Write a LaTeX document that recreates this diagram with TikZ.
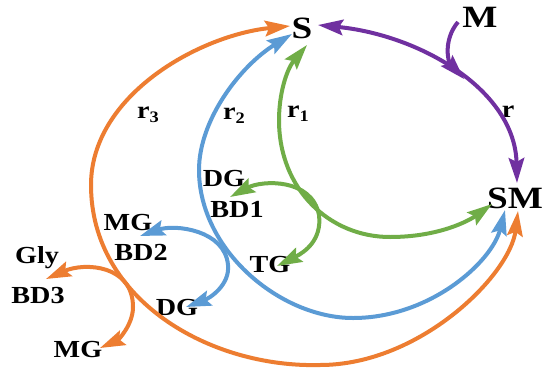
\documentclass[tikz,border=0pt]{standalone}
\usepackage{fontspec}
\setmainfont{Liberation Serif}
\newfontfamily\bigfont[FakeStretch=1.2]{Liberation Serif}
\newfontfamily\smallfont[FakeStretch=1.15]{Liberation Serif}
\usetikzlibrary{arrows.meta}
\definecolor{corange}{HTML}{ED7D31}
\definecolor{cblue}{HTML}{5B9BD5}
\definecolor{cgreen}{HTML}{70AD47}
\definecolor{cpurple}{HTML}{7030A0}
\begin{document}
\begin{tikzpicture}[x=1pt,y=-1pt,
  >={Stealth[length=25pt,width=15.5pt,inset=4pt]},
  big/.style={anchor=base,inner sep=0pt,font=\bigfont\bfseries\fontsize{31}{31}\selectfont},
  small/.style={anchor=base,inner sep=0pt,font=\smallfont\bfseries\fontsize{24.5}{24.5}\selectfont},
  rlab/.style={anchor=base west,inner sep=0pt,font=\smallfont\bfseries\fontsize{24.5}{24.5}\selectfont},
  link/.style={line width=4pt},
]
\fill[white] (0,0) rectangle (543,367);
\useasboundingbox (0,0) rectangle (543,367);
\newcommand{\sub}[1]{\raisebox{-4pt}{\fontsize{16}{16}\selectfont #1}}
% labels
\node[big] (S) at (302,38) {S};
\node[big] (M) at (480,27) {M};
\node[big] (SM) at (515,208) {SM};
\node[small] (DG1) at (224,186) {DG};
\node[small] (BD1) at (237,217) {BD1};
\node[small] (MG1) at (128,230) {MG};
\node[small] (BD2) at (141,260) {BD2};
\node[small] (Gly) at (37,263) {Gly};
\node[small] (BD3) at (38,303) {BD3};
\node[small] (DG2) at (177,315) {DG};
\node[small] (TG) at (270,272) {TG};
\node[small] (MG2) at (78,357) {MG};
\node[small] (r) at (508,117) {r};
\node[rlab] (r1) at (287,117) {r\sub{1}};
\node[rlab] (r2) at (223,119) {r\sub{2}};
\node[rlab] (r3) at (137,118) {r\sub{3}};
% tip coordinates
\coordinate (S-p) at (318,25);
\coordinate (SM-p) at (517,183);
\coordinate (M-p) at (458,22);
\coordinate (J-p) at (464,79);
\coordinate (S-g) at (307,45);
\coordinate (SM-g) at (492,204);
\coordinate (S-b) at (292,34);
\coordinate (SM-b) at (505,210);
\coordinate (S-o) at (290,26);
\coordinate (SM-o) at (518,211);
\coordinate (DG1-g) at (230,197);
\coordinate (TG-g) at (277,266);
\coordinate (MG1-b) at (140,236);
\coordinate (DG2-b) at (186,307);
\coordinate (Gly-o) at (46,279);
\coordinate (MG2-o) at (100,348);
% orange r3
\draw[link,corange,<->] (S-o) .. controls (200,35) and (91,95) .. (91,185)
   .. controls (91,300) and (210,368) .. (320,365)
   .. controls (420,365) and (510,275) .. (SM-o);
\draw[link,corange,<->] (Gly-o) .. controls (85,262) and (133,265) .. (133,307)
   .. controls (133,325) and (118,340) .. (MG2-o);
% blue r2
\draw[link,cblue,<->] (S-b) .. controls (240,66) and (199,120) .. (199,170)
   .. controls (199,250) and (280,318) .. (353,318)
   .. controls (430,318) and (492,262) .. (SM-b);
\draw[link,cblue,<->] (MG1-b) .. controls (175,224) and (225,230) .. (228,265)
   .. controls (230,285) and (210,298) .. (DG2-b);
% green r1
\draw[link,cgreen,<->] (S-g) .. controls (286,70) and (279,95) .. (279,120)
   .. controls (279,190) and (330,237) .. (390,237)
   .. controls (440,237) and (470,220) .. (SM-g);
\draw[link,cgreen,<->] (DG1-g) .. controls (262,180) and (312,178) .. (319,215)
   .. controls (322,240) and (305,252) .. (TG-g);
% purple
\draw[link,cpurple,<->] (S-p) .. controls (420,35) and (515,90) .. (SM-p);
\draw[link,cpurple,->] (M-p) .. controls (443,40) and (448,62) .. (J-p);
\end{tikzpicture}
\end{document}
